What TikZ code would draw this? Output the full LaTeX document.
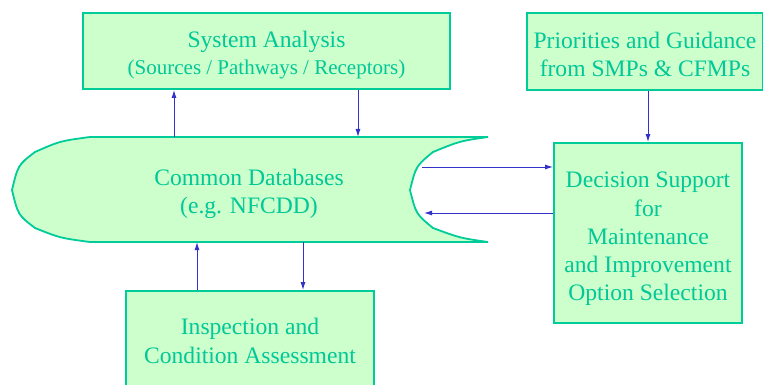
\documentclass[tikz,border=0pt]{standalone}
\usepackage{fontspec}
\setmainfont{Liberation Serif}
\usetikzlibrary{arrows.meta}
\definecolor{boxfill}{HTML}{CCFFCC}
\definecolor{boxline}{HTML}{00CC99}
\definecolor{boxtext}{HTML}{00C896}
\definecolor{arrowblue}{HTML}{3333CC}
\tikzset{
  panel/.style={draw=boxline, fill=boxfill, line width=1.8pt, inner sep=0pt},
  caption/.style={text=boxtext, align=center, inner sep=0pt,
    font=\fontsize{23.6pt}{28.3pt}\selectfont},
  flow/.style={draw=arrowblue, line width=1pt,
    -{Latex[length=8pt,width=5pt]}},
}
\begin{document}
\begin{tikzpicture}[x=1pt,y=-1pt]
\useasboundingbox (0,0) rectangle (763,385);
\clip (0,0) rectangle (763,385);

% shared database store, rounded on the left and hollowed on the right
\draw[draw=boxline, fill=boxfill, line width=1.8pt]
  (90,137) -- (488,137)
  .. controls (460,141) .. (433,152)
  .. controls (416,166) .. (410,190)
  .. controls (416,214) .. (433,228)
  .. controls (460,238) .. (488,242)
  -- (90,242)
  .. controls (60,238) .. (35,228)
  .. controls (18,215) .. (12,190)
  .. controls (18,165) .. (35,152)
  .. controls (60,141) .. cycle;
\node[caption] (db) at (249,194) {Common Databases\\(e.g. NFCDD)};

% end points of the connectors on the database outline
\coordinate (dbUpA) at (174,137);
\coordinate (dbDownA) at (358,137);
\coordinate (dbUpB) at (197,242);
\coordinate (dbDownB) at (303,242);
\coordinate (dbOut) at (422,167);
\coordinate (dbIn) at (424,213);

% boxes, each with its caption placed on the box centre
\node[panel, minimum width=367pt, minimum height=76pt,
  label={[caption, yshift=-4pt]center:{System Analysis\\[-1pt]{\fontsize{21pt}{26pt}\selectfont (Sources / Pathways / Receptors)}}}]
  (sys) at (266.5,51) {};
\node[panel, minimum width=236pt, minimum height=77pt,
  label={[caption, yshift=-3pt]center:{Priorities and Guidance\\from SMPs \& CFMPs}}]
  (pri) at (645,51.5) {};
\node[panel, minimum width=188pt, minimum height=180pt,
  label={[caption, yshift=-6pt]center:{Decision Support\\for\\Maintenance\\and Improvement\\Option Selection}}]
  (dec) at (648,233) {};
\node[panel, minimum width=248pt, minimum height=100pt,
  label={[caption]center:{Inspection and\\Condition Assessment}}]
  (insp) at (250,341) {};

% connectors
\draw[flow] (dbUpA) -- (sys.south -| dbUpA);
\draw[flow] (sys.south -| dbDownA) -- (dbDownA);
\draw[flow] (pri.south -| dec.north) -- (dec.north);
\draw[flow] (dbOut) -- (dec.west |- dbOut);
\draw[flow] (dec.west |- dbIn) -- (dbIn);
\draw[flow] (insp.north -| dbUpB) -- (dbUpB);
\draw[flow] (dbDownB) -- (insp.north -| dbDownB);
\end{tikzpicture}
\end{document}
